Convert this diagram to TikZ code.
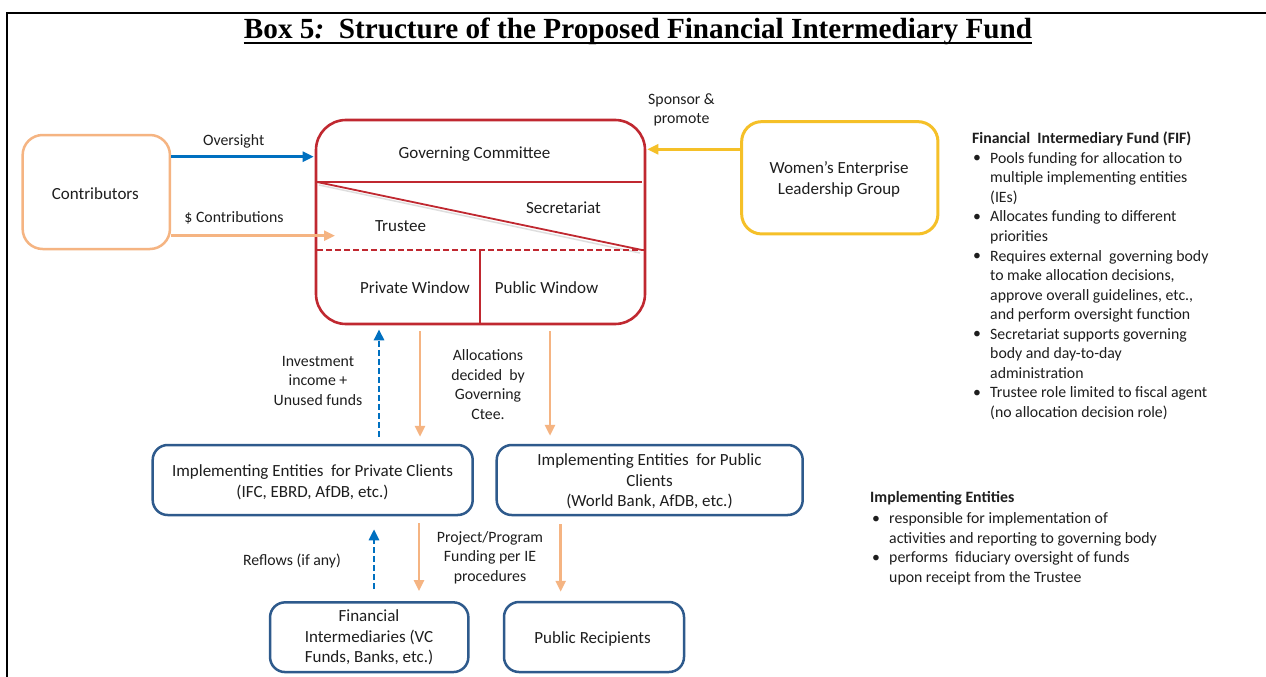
\documentclass[tikz,border=0pt]{standalone}
\usepackage{fontspec}
\setmainfont{Carlito}
\newfontfamily\titlefont{Liberation Serif}
\usetikzlibrary{arrows.meta}
\definecolor{cOrange}{RGB}{245,180,130}
\definecolor{cBlue}{RGB}{0,112,192}
\definecolor{cBoxBlue}{RGB}{46,90,140}
\definecolor{cRed}{RGB}{192,40,48}
\definecolor{cYellow}{RGB}{245,192,40}
\definecolor{cText}{RGB}{30,30,30}
\begin{document}
\begin{tikzpicture}[x=1pt,y=-1pt,
  txt/.style={inner sep=0pt, font=\fontsize{17}{20.7}\selectfont, text=cText},
  lbl/.style={inner sep=0pt, font=\fontsize{15.8}{19.6}\selectfont, text=cText},
  side/.style={inner sep=0pt, font=\fontsize{15.8}{19.55}\selectfont, text=cText},
  mtxt/.style={txt, align=center, anchor=north, execute at begin node=\strut, yshift=-3pt},
  mlbl/.style={lbl, align=center, anchor=north, execute at begin node=\strut, yshift=-3pt},
  item/.style={side, align=left, anchor=north west, execute at begin node=\strut, yshift=-3pt},
  bul/.style={side, anchor=base west},
  rbox/.style={draw, rounded corners=#1, inner sep=0pt},
  tip/.style={-{Triangle[length=11pt,width=10pt]}},
  oarr/.style={draw=cOrange, line width=2.6pt, tip},
  barr/.style={draw=cBlue, line width=2.6pt, tip},
  bdarr/.style={barr, dash pattern=on 6pt off 3pt},
  yarr/.style={draw=cYellow, line width=2.6pt, tip},
  inner/.style={draw=cRed, line width=1.8pt}
]
\useasboundingbox (0,0) rectangle (1266,677);
\fill[white] (0,0) rectangle (1266,677);

% frame
\draw[line width=2pt] (7.3,677) -- (7.3,12.7) -- (1266,12.7);

% title
\node[inner sep=0pt, anchor=base, font=\titlefont\bfseries\fontsize{29.2}{32}\selectfont] (title) at (638,39)
  {Box 5\textit{:}\ \ Structure of the Proposed Financial Intermediary Fund};
\coordinate (ul) at (0,42.7);
\draw[line width=2pt] (title.west |- ul) -- (title.east |- ul);

% boxes
\node[rbox=20pt, draw=cOrange, line width=2.5pt, minimum width=147.3pt, minimum height=114pt] (contrib) at (96.3,192) {};
\node[rbox=30pt, draw=cRed, line width=2.6pt, minimum width=329pt, minimum height=204pt] (fif) at (480.5,222) {};
\node[rbox=20pt, draw=cYellow, line width=3pt, minimum width=196.3pt, minimum height=112.3pt] (welg) at (839.8,177.8) {};
\node[rbox=15pt, draw=cBoxBlue, line width=2.5pt, minimum width=320pt, minimum height=70pt] (iepriv) at (312.7,480) {};
\node[rbox=15pt, draw=cBoxBlue, line width=2.5pt, minimum width=306pt, minimum height=70pt] (iepub) at (649.7,480) {};
\node[rbox=15pt, draw=cBoxBlue, line width=2.5pt, minimum width=198.3pt, minimum height=69.7pt] (fi) at (369.2,637.2) {};
\node[rbox=15pt, draw=cBoxBlue, line width=2.5pt, minimum width=180pt, minimum height=70pt] (pr) at (594,637) {};

% inner structure of the fund box
\draw[inner] (317,182) -- (642,182);
\draw[draw=black!25, line width=1.5pt, opacity=0.5] (319,185) -- (640,253);
\draw[inner] (317,182) -- (642,250);
\draw[inner, dash pattern=on 6pt off 3pt] (317,250) -- (644,250);
\draw[inner] (480,250) -- (480,323.5);

% box texts
\node[txt, anchor=base] (tcontrib) at (95.3,199) {Contributors};
\node[txt, anchor=base] (tgov) at (474.5,158) {Governing Committee};
\node[txt, anchor=base] (tsec) at (563.5,213) {Secretariat};
\node[txt, anchor=base] (ttru) at (400.5,231) {Trustee};
\node[txt, anchor=base] (tpriw) at (415,293) {Private Window};
\node[txt, anchor=base] (tpubw) at (546.5,293) {Public Window};
\node[mtxt] (twelg) at (839,158.5) {Women’s Enterprise\\Leadership Group};
\node[mtxt] (tiepriv) at (312.5,461.5) {Implementing Entities\ \ for Private Clients\\(IFC, EBRD, AfDB, etc.)};
\node[mtxt] (tiepub) at (649.5,450.5) {Implementing Entities\ \ for Public\\Clients\\(World Bank, AfDB, etc.)};
\node[mtxt] (tfi) at (369,606.5) {Financial\\Intermediaries (VC\\Funds, Banks, etc.)};
\node[txt, anchor=base] (tpr) at (592.5,643) {Public Recipients};

% connector labels
\node[lbl, anchor=base] (lover) at (233.7,145.7) {Oversight};
\node[lbl, anchor=base] (lcontr) at (234,222.7) {\$ Contributions};
\node[mlbl] (lspons) at (681.5,90.3) {Sponsor \&\\promote};
\node[mlbl] (linv) at (318,353) {Investment\\income +\\Unused funds};
\node[mlbl] (lalloc) at (488,346.3) {Allocations\\decided\ \ by\\Governing\\Ctee.};
\node[lbl, anchor=base] (lrefl) at (292,565) {Reflows (if any)};
\node[mlbl] (lproj) at (490,528) {Project/Program\\Funding per IE\\procedures};

% connectors
\coordinate (yO) at (0,156.7);
\coordinate (yC) at (0,235.7);
\coordinate (ctip) at (335,235.7);
\coordinate (yS) at (0,149.3);
\coordinate (xA) at (379,0);
\coordinate (xB) at (420,0);
\coordinate (xC) at (550,0);
\coordinate (xD) at (374,0);
\coordinate (xE) at (419,0);
\coordinate (xF) at (560.7,0);

\draw[barr, shorten >=1pt] (contrib.east |- yO) -- (fif.west |- yO);
\draw[oarr] (contrib.east |- yC) -- (ctip);
\draw[yarr, shorten >=1pt] (welg.west |- yS) -- (fif.east |- yS);
\draw[bdarr, shorten <=7pt, shorten >=4pt] (iepriv.north -| xA) -- (fif.south -| xA);
\draw[oarr, shorten <=6pt, shorten >=7pt] (fif.south -| xB) -- (iepriv.north -| xB);
\draw[oarr, shorten <=6pt, shorten >=8pt] (fif.south -| xC) -- (iepub.north -| xC);
\draw[bdarr, shorten <=12pt, shorten >=13pt] (fi.north -| xD) -- (iepriv.south -| xD);
\draw[oarr, shorten <=7pt, shorten >=10pt] (iepriv.south -| xE) -- (fi.north -| xE);
\draw[oarr, shorten <=8pt, shorten >=9pt] (iepub.south -| xF) -- (pr.north -| xF);

% side notes: FIF
\node[side, anchor=base west, font=\bfseries\fontsize{15.8}{19.55}\selectfont] (fifhead) at (972,143.3) {Financial\ \ Intermediary Fund (FIF)};
\node[bul] (fb1) at (973,162.85) {•};
\node[item] (fi1) at (990,149.13) {Pools funding for allocation to\\multiple implementing entities\\(IEs)};
\node[bul] (fb2) at (973,221.5) {•};
\node[item] (fi2) at (990,207.78) {Allocates funding to different\\priorities};
\node[bul] (fb3) at (973,260.6) {•};
\node[item] (fi3) at (990,246.88) {Requires external\ \ governing body\\to make allocation decisions,\\approve overall guidelines, etc.,\\and perform oversight function};
\node[bul] (fb4) at (973,338.8) {•};
\node[item] (fi4) at (990,325.08) {Secretariat supports governing\\body and day-to-day\\administration};
\node[bul] (fb5) at (973,397.45) {•};
\node[item] (fi5) at (990,383.73) {Trustee role limited to fiscal agent\\(no allocation decision role)};

% side notes: IEs
\node[side, anchor=base west, font=\bfseries\fontsize{15.8}{19.55}\selectfont] (iehead) at (870,502) {Implementing Entities};
\node[bul] (ib1) at (872,523) {•};
\node[item] (ii1) at (889,509.3) {responsible for implementation of\\activities and reporting to governing body};
\node[bul] (ib2) at (872,562) {•};
\node[item] (ii2) at (889,548.3) {performs\ \ fiduciary oversight of funds\\upon receipt from the Trustee};
\end{tikzpicture}
\end{document}
